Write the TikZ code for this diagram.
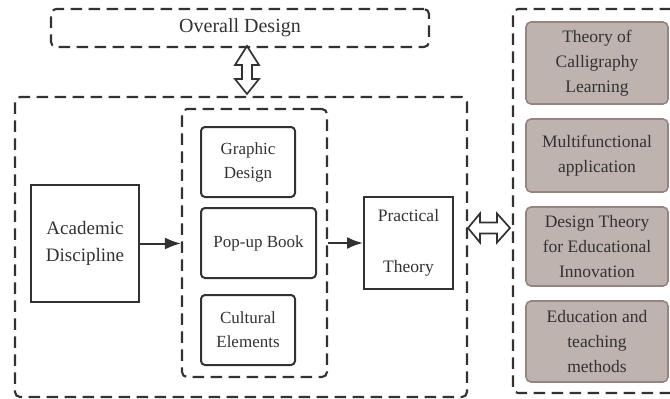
\documentclass[tikz,border=0pt]{standalone}
\usepackage{fontspec}
\setmainfont{Liberation Serif}
\usetikzlibrary{arrows.meta}
\definecolor{ink}{RGB}{50,50,50}
\definecolor{txt}{RGB}{50,50,50}
\definecolor{brownfill}{RGB}{191,179,175}
\definecolor{browndraw}{RGB}{150,132,128}
\tikzset{
  dbox/.style={draw=ink, line width=2.1pt, dash pattern=on 11.5pt off 6.5pt, rounded corners=5pt, inner sep=0pt},
  sbox/.style={draw=ink, line width=2pt, rounded corners=4pt, align=center, inner sep=0pt, text=txt, font=\fontsize{17}{24}\selectfont},
  pbox/.style={draw=ink, line width=2pt, align=center, inner sep=0pt, text=txt, font=\fontsize{19}{27}\selectfont},
  bbox/.style={draw=browndraw, fill=brownfill, line width=1.6pt, rounded corners=5pt, align=center, inner sep=0pt, text=txt, font=\fontsize{17.5}{25}\selectfont, minimum width=142pt},
  arr/.style={draw=ink, line width=2pt, -{Latex[length=16pt,width=12pt]}},
  blk/.style={draw=ink, line width=1.7pt, fill=white, line join=miter}
}
\begin{document}
\begin{tikzpicture}[x=1pt,y=-1pt]
\useasboundingbox (0,0) rectangle (670,399);
% dashed containers
\node[dbox, minimum width=378pt, minimum height=38pt, text=txt, font=\fontsize{20}{24}\selectfont] (overall) at (240,28) {Overall Design};
\node[dbox, minimum width=452pt, minimum height=300pt] (big) at (241,247) {};
\node[dbox, minimum width=145pt, minimum height=268pt] (inner) at (254.5,243) {};
\node[dbox, minimum width=163pt, minimum height=384pt] (right) at (594.5,201) {};
% inner boxes
\node[sbox, minimum width=94pt, minimum height=70pt] (graphic) at (248,162) {Graphic\\Design};
\node[sbox, minimum width=115pt, minimum height=70pt] (popup) at (258.5,243) {Pop-up Book};
\node[sbox, minimum width=94pt, minimum height=70pt] (cultural) at (248,330) {Cultural\\Elements};
\node[pbox, minimum width=108pt, minimum height=117pt] (academic) at (85,243.5) {Academic\\Discipline};
\node[pbox, minimum width=89pt, minimum height=92pt, font=\fontsize{17.5}{24}\selectfont] (practical) at (408.5,243) {Practical\\[27pt]Theory};
% brown boxes
\node[bbox, minimum height=82pt] (theory) at (597,63) {Theory of\\Calligraphy\\Learning};
\node[bbox, minimum height=73pt] (multi) at (597,155.5) {Multifunctional\\application};
\node[bbox, minimum height=79pt] (design) at (597,246.5) {Design Theory\\for Educational\\Innovation};
\node[bbox, minimum height=81pt] (edu) at (597,341.5) {Education and\\teaching\\methods};
% solid arrows
\draw[arr] (academic.east) -- (academic.east -| inner.west);
\draw[arr] (practical.west -| inner.east) -- (practical.west);
% vertical block double arrow between overall and big
\coordinate (vt) at (overall.south);
\draw[blk] ([yshift=2pt]vt -| 247,0) -- (259,65) -- (252,65) -- (252,79) -- (259,79) -- (247,94) -- (235,79) -- (242,79) -- (242,65) -- (235,65) -- cycle;
% horizontal block double arrow between big and right
\draw[blk] (468,228) -- (480,213.5) -- (480,222.5) -- (497,222.5) -- (497,213.5) -- (510,228) -- (497,242.5) -- (497,233.5) -- (480,233.5) -- (480,242.5) -- cycle;
\end{tikzpicture}
\end{document}
